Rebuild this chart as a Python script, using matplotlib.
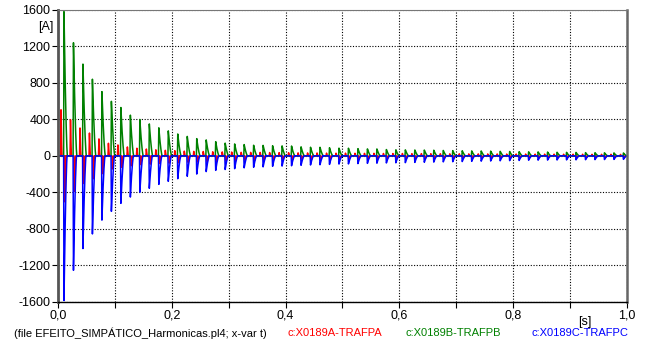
import numpy as np
import matplotlib
matplotlib.use("Agg")
import matplotlib.pyplot as plt
from matplotlib.ticker import MultipleLocator, FuncFormatter

plt.rcParams["font.family"] = ["Liberation Sans", "DejaVu Sans"]

# Inrush peaks per 60 Hz cycle [A]
phase_b_peaks = [1580, 1250, 1010, 840, 710, 600, 530, 450, 400, 350,
                 310, 275, 240, 215, 190, 175, 157, 140, 131, 125,
                 117, 115, 112, 110, 108, 100, 95, 94, 90, 85,
                 84, 80, 77, 76, 70, 67, 66, 65, 64, 62,
                 60, 58, 56, 55, 54, 52, 50, 48, 46, 45,
                 44, 42, 40, 39, 38, 36, 35, 34, 33, 32]
phase_c_peaks = [-1585, -1265, -1020, -855, -710, -610, -520, -455, -400, -355,
                 -315, -280, -250, -225, -200, -172, -160, -150, -140, -132,
                 -125, -120, -115, -112, -108, -104, -100, -97, -94, -90,
                 -88, -85, -82, -80, -78, -76, -74, -72, -70, -68,
                 -66, -64, -62, -60, -58, -56, -54, -52, -50, -48,
                 -47, -46, -45, -44, -43, -42, -41, -40, -39, -38]
phase_a_pos = [505, 405, 310, 250, 190, 140, 120, 100, 85, 75,
               68, 62, 57, 53, 50, 48, 46, 44, 42, 40,
               39, 38, 37, 36, 35, 34, 33, 32, 31, 30,
               30, 29, 28, 28, 27, 26, 26, 25, 25, 24,
               24, 23, 23, 22, 22, 21, 21, 20, 20, 20,
               19, 19, 19, 18, 18, 18, 17, 17, 17, 16]
phase_a_neg = [-505, -395, -307, -250, -200, -145, -125, -110, -98, -90,
               -85, -80, -76, -72, -68, -64, -60, -57, -54, -51,
               -49, -47, -45, -43, -41, -40, -38, -37, -36, -35,
               -34, -33, -32, -31, -30, -30, -29, -28, -28, -27,
               -26, -26, -25, -25, -24, -24, -23, -23, -22, -22,
               -21, -21, -21, -20, -20, -20, -19, -19, -19, -18]

f0 = 60.0
t_bc = 0.0105      # first B/C peak
t_a_pos = 0.0053   # first positive A peak
t_a_neg = 0.0123   # first negative A peak

t = np.arange(0.0, 1.0 + 5e-5, 5e-5)


def pulse_train(t, t_first, peaks, rise, fall):
    y = np.zeros_like(t)
    for k, pk in enumerate(peaks):
        tp = t_first + k / f0
        up = (t >= tp - rise) & (t <= tp)
        y[up] += pk * (t[up] - (tp - rise)) / rise
        dn = (t > tp) & (t <= tp + fall)
        x = (t[dn] - tp) / fall
        y[dn] += pk * (1 - x) ** 1.5
    return y


i_a = (pulse_train(t, t_a_pos, phase_a_pos, 0.0008, 0.0018)
       + pulse_train(t, t_a_neg, phase_a_neg, 0.0008, 0.0022))
i_b = pulse_train(t, t_bc, phase_b_peaks, 0.0006, 0.0060)
i_c = pulse_train(t, t_bc, phase_c_peaks, 0.0006, 0.0055)

fig = plt.figure(figsize=(6.48, 3.40), dpi=100)
ax = fig.add_axes([0.0895, 0.112, 0.878, 0.859])

ax.plot(t, i_a, color="#ff0000", lw=1.1)
ax.plot(t, i_b, color="#008000", lw=1.1)
ax.plot(t, i_c, color="#0000ff", lw=1.1)

ax.set_xlim(0, 1.0)
ax.set_ylim(-1600, 1600)
ax.xaxis.set_major_locator(MultipleLocator(0.2))
ax.xaxis.set_minor_locator(MultipleLocator(0.1))
ax.yaxis.set_major_locator(MultipleLocator(400))
ax.xaxis.set_major_formatter(FuncFormatter(lambda v, p: f"{v:.1f}".replace(".", ",")))
ax.yaxis.set_major_formatter(FuncFormatter(lambda v, p: f"{v:.0f}"))

ax.grid(True, which="both", axis="x", color="black", ls=(0, (1, 1.5)), lw=0.8)
ax.grid(True, which="major", axis="y", color="black", ls=(0, (1, 1.5)), lw=0.8)

ax.tick_params(axis="both", which="both", direction="out", length=4, width=0.8,
               labelsize=9, pad=1.5, colors="black")
ax.tick_params(axis="x", which="minor", length=4)

ax.spines["left"].set_color("#555555")
ax.spines["left"].set_linewidth(2.0)
ax.spines["bottom"].set_color("black")
ax.spines["bottom"].set_linewidth(1.0)
ax.spines["right"].set_color("#666666")
ax.spines["right"].set_linewidth(1.8)
ax.spines["top"].set_color("#777777")
ax.spines["top"].set_linewidth(0.8)

fig.text(46 / 648, 1 - 27 / 340, "[A]", fontsize=9, ha="center", va="center")
fig.text(585 / 648, 1 - 322 / 340, "[s]", fontsize=9, ha="center", va="center")

cap_y = 1 - 333 / 340
fig.text(14 / 648, cap_y, "(file EFEITO_SIMPÁTICO_Harmonicas.pl4; x-var t)",
         fontsize=8, ha="left", va="center", color="black")
fig.text(287 / 648, cap_y, "c:X0189A-TRAFPA", fontsize=8, ha="left", va="center", color="#ff0000")
fig.text(405 / 648, cap_y, "c:X0189B-TRAFPB", fontsize=8, ha="left", va="center", color="#008000")
fig.text(532 / 648, cap_y, "c:X0189C-TRAFPC", fontsize=8, ha="left", va="center", color="#0000ff")

fig.savefig("out.png", dpi=100)
